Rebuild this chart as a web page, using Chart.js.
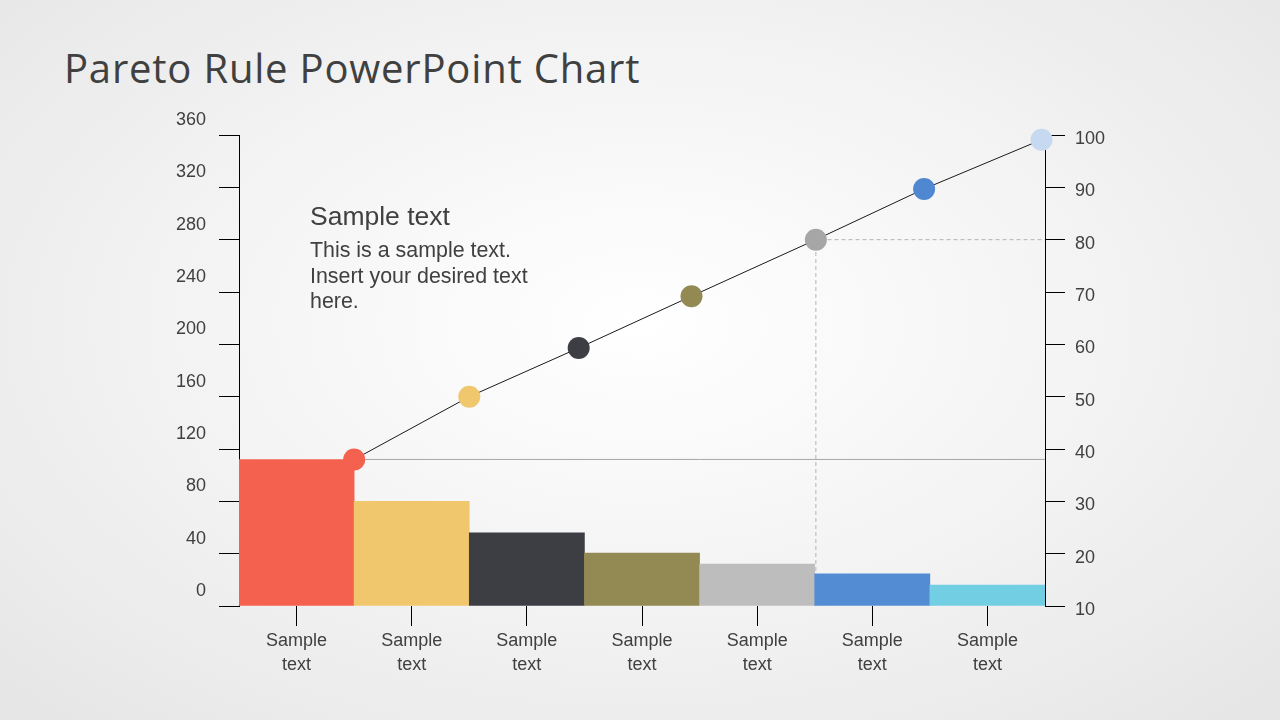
<!DOCTYPE html>
<html>
<head>
<meta charset="utf-8">
<script src="https://cdn.jsdelivr.net/npm/chart.js@4/dist/chart.umd.min.js"></script>
<style>
  html, body {
    margin: 0;
    width: 1280px;
    height: 720px;
    overflow: hidden;
  }
  body {
    position: relative;
    background: radial-gradient(ellipse 75% 80% at 50% 45%, #ffffff 0%, #f4f4f4 45%, #e4e4e4 100%);
    font-family: "Liberation Sans", Arial, sans-serif;
    color: #404040;
  }
  #title {
    position: absolute;
    left: 64px;
    top: 40px;
    font-family: "Open Sans", sans-serif;
    font-size: 40px;
    letter-spacing: 0.8px;
    line-height: 56px;
    color: #404040;
    white-space: nowrap;
  }
  #note-head {
    position: absolute;
    left: 310px;
    top: 200px;
    font-size: 26.5px;
    line-height: 32px;
  }
  #note-body {
    position: absolute;
    left: 310px;
    top: 238px;
    font-size: 21.4px;
    line-height: 25.7px;
  }
  canvas {
    position: absolute;
    left: 0;
    top: 0;
  }
</style>
</head>
<body>
<div id="title">Pareto Rule PowerPoint Chart</div>
<canvas id="chart" width="1280" height="720"></canvas>
<div id="note-head">Sample text</div>
<div id="note-body">This is a sample text.<br>Insert your desired text<br>here.</div>

<script>
// data
const categories = [
  ["Sample", "text"], ["Sample", "text"], ["Sample", "text"], ["Sample", "text"],
  ["Sample", "text"], ["Sample", "text"], ["Sample", "text"]
];
const counts = [112, 80, 56, 40.5, 32, 24.5, 16];
const barColors = ["#f5614f", "#f0c76d", "#3d3e44", "#938a53", "#bdbdbd", "#548cd4", "#72cfe3"];

// cumulative line: position along the bars (0..7) and percent on the right axis
const cumPos = [1.0, 2.0, 2.95, 3.93, 5.01, 5.95, 6.97];
const cumShare = [38, 50, 59.3, 69.2, 80, 89.7, 99.1];
const pointColors = ["#f5614f", "#f0c76d", "#3d3e44", "#938a53", "#a6a6a6", "#4f87d1", "#c6d9f1"];

// left axis 0..360, right axis 10..100
const leftMax = 360;
const leftStep = 40;
const rightMin = 10;
const rightMax = 100;
const rightStep = 10;

const topShare = 38;     // first bar level carried across
const cutoffShare = 80;  // the 80% mark
const cutoffPos = 5.01;

const textColor = "#404040";
const tickFont = { family: "'Liberation Sans', Arial, sans-serif", size: 18 };

const ctx = document.getElementById("chart");

new Chart(ctx, {
  type: "bar",
  data: {
    labels: categories,
    datasets: [
      {
        type: "line",
        data: cumPos.map((x, i) => ({ x: x, y: cumShare[i] })),
        xAxisID: "x2",
        yAxisID: "y2",
        borderColor: "#1a1a1a",
        borderWidth: 1,
        pointRadius: 11,
        pointBorderWidth: 0,
        pointBackgroundColor: pointColors,
        pointHoverRadius: 11,
        clip: false,
        order: 0,
      },
      {
        type: "line",
        data: [{ x: 1, y: topShare }, { x: 7, y: topShare }],
        xAxisID: "x2",
        yAxisID: "y2",
        borderColor: "#a6a6a6",
        borderWidth: 1,
        pointRadius: 0,
        order: 1,
      },
      {
        type: "bar",
        data: counts,
        xAxisID: "x",
        yAxisID: "y",
        backgroundColor: barColors,
        grouped: false,
        barPercentage: 1,
        categoryPercentage: 1,
        order: 2,
      },
      {
        type: "line",
        data: [{ x: cutoffPos, y: rightMin }, { x: cutoffPos, y: cutoffShare }, { x: 7, y: cutoffShare }],
        xAxisID: "x2",
        yAxisID: "y2",
        borderColor: "#b4b4b4",
        borderWidth: 1,
        borderDash: [4, 3],
        pointRadius: 0,
        order: 3,
      },
    ],
  },
  options: {
    responsive: false,
    animation: false,
    layout: {
      padding: { top: 135, left: 0, right: 0, bottom: 0 },
    },
    plugins: {
      legend: { display: false },
      tooltip: { enabled: false },
    },
    scales: {
      x: {
        type: "category",
        offset: true,
        afterFit: (scale) => {
          scale.height = 114;
        },
        border: { display: false },
        grid: {
          offset: false,
          drawOnChartArea: false,
          tickLength: 20,
          color: "#000",
        },
        ticks: {
          color: textColor,
          font: { ...tickFont, lineHeight: 1.28 },
          padding: 4,
          maxRotation: 0,
        },
      },
      x2: {
        type: "linear",
        display: false,
        offset: false,
        grid: { offset: false },
        min: 0,
        max: 7,
      },
      y: {
        position: "left",
        min: 0,
        max: leftMax,
        afterFit: (scale) => {
          scale.width = 239;
        },
        border: { display: true, color: "#000", width: 1 },
        grid: {
          drawOnChartArea: false,
          tickLength: 20,
          color: "#000",
        },
        ticks: {
          stepSize: leftStep,
          color: textColor,
          font: tickFont,
          padding: 13,
          labelOffset: -15,
        },
      },
      y2: {
        position: "right",
        min: rightMin,
        max: rightMax,
        afterFit: (scale) => {
          scale.width = 235;
        },
        border: { display: true, color: "#000", width: 1 },
        grid: {
          drawOnChartArea: false,
          tickLength: 20,
          color: "#000",
        },
        ticks: {
          stepSize: rightStep,
          color: textColor,
          font: tickFont,
          padding: 10,
          labelOffset: 4,
        },
      },
    },
  },
});
</script>
</body>
</html>
